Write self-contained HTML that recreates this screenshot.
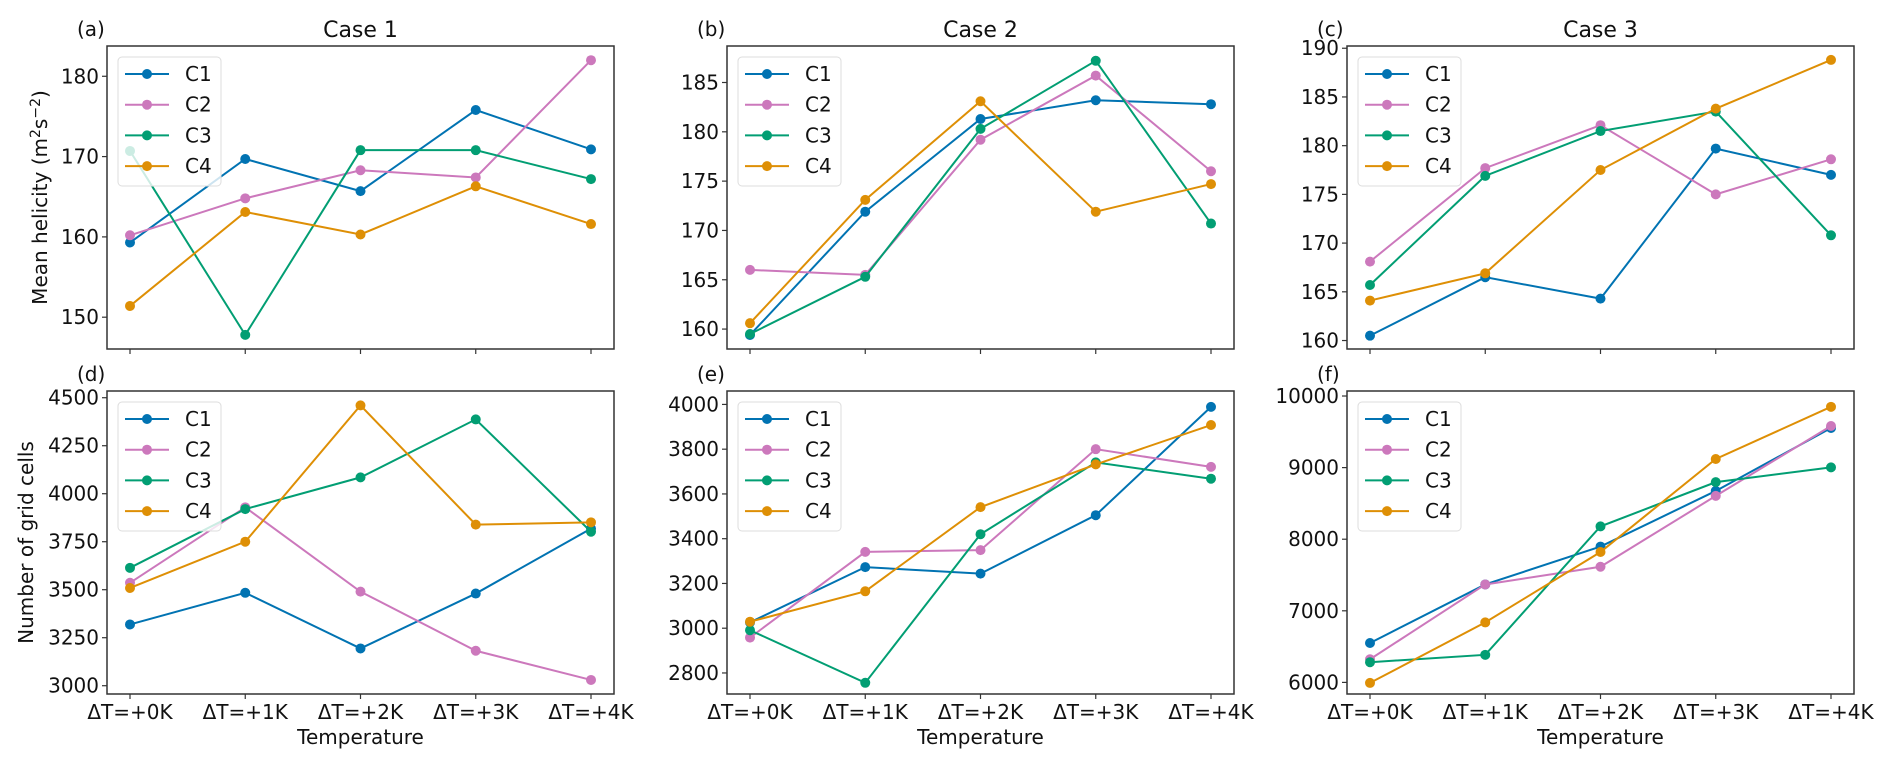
<!DOCTYPE html>
<html><head><meta charset="utf-8"><style>
html,body{margin:0;padding:0;background:#fff;}
svg text{font-family:"DejaVu Sans","Liberation Sans",sans-serif;}
</style></head><body>
<svg id="fig" width="1892" height="768" xmlns="http://www.w3.org/2000/svg"></svg>
<script>
const categories = ["ΔT=+0K","ΔT=+1K","ΔT=+2K","ΔT=+3K","ΔT=+4K"];
const seriesNames = ["C1","C2","C3","C4"];
const colors = ["#0173b2","#cc78bc","#029e73","#de8f05"];

const aC1=[159.3,169.7,165.7,175.8,170.9], aC2=[160.2,164.8,168.3,167.4,182.0], aC3=[170.7,147.8,170.8,170.8,167.2], aC4=[151.4,163.1,160.3,166.3,161.6];
const bC1=[159.4,171.9,181.3,183.2,182.8], bC2=[166.0,165.5,179.2,185.7,176.0], bC3=[159.5,165.3,180.3,187.2,170.7], bC4=[160.6,173.1,183.1,171.9,174.7];
const cC1=[160.5,166.5,164.3,179.7,177.0], cC2=[168.1,177.7,182.1,175.0,178.6], cC3=[165.7,176.9,181.5,183.5,170.8], cC4=[164.1,166.9,177.5,183.8,188.8];
const dC1=[3319,3484,3194,3480,3818], dC2=[3536,3929,3490,3182,3030], dC3=[3614,3920,4085,4387,3802], dC4=[3509,3750,4460,3839,3851];
const eC1=[3026,3273,3244,3505,3989], eC2=[2958,3341,3349,3800,3721], eC3=[2991,2756,3420,3741,3668], eC4=[3029,3165,3541,3732,3908];
const fC1=[6550,7368,7897,8674,9553], fC2=[6323,7368,7615,8605,9581], fC3=[6282,6385,8179,8797,9003], fC4=[5993,6838,7821,9120,9849];

const ticksA=[150,160,170,180], ticksB=[160,165,170,175,180,185], ticksC=[160,165,170,175,180,185,190];
const ticksD=[3000,3250,3500,3750,4000,4250,4500], ticksE=[2800,3000,3200,3400,3600,3800,4000], ticksF=[6000,7000,8000,9000,10000];

const panels=[
 {id:"a",x:107,y:46,series:[aC1,aC2,aC3,aC4],ticks:ticksA,ymin:146.04,ymax:183.77,title:"Case 1",ylabel:true,bottom:false},
 {id:"b",x:727,y:46,series:[bC1,bC2,bC3,bC4],ticks:ticksB,ymin:157.98,ymax:188.7,title:"Case 2",bottom:false},
 {id:"c",x:1347,y:46,series:[cC1,cC2,cC3,cC4],ticks:ticksC,ymin:159.13,ymax:190.23,title:"Case 3",bottom:false},
 {id:"d",x:107,y:391,series:[dC1,dC2,dC3,dC4],ticks:ticksD,ymin:2956.8,ymax:4535,ylabel2:true,bottom:true},
 {id:"e",x:727,y:391,series:[eC1,eC2,eC3,eC4],ticks:ticksE,ymin:2706,ymax:4060,bottom:true},
 {id:"f",x:1347,y:391,series:[fC1,fC2,fC3,fC4],ticks:ticksF,ymin:5838,ymax:10070,bottom:true}
];
const W=507,H=303,FS=20;
const svg=document.getElementById('fig');
const NS="http://www.w3.org/2000/svg";
function mk(tag,attrs,parent){const e=document.createElementNS(NS,tag);for(const k in attrs)e.setAttribute(k,attrs[k]);(parent||svg).appendChild(e);return e;}

panels.forEach(p=>{
  const g=mk('g',{});
  
  
  const xs=i=>p.x+23+i*(W-46)/(categories.length-1);
  const ys=v=>p.y+(p.ymax-v)/(p.ymax-p.ymin)*H;
  p.ticks.forEach(t=>{
    const yy=ys(t);
    mk('line',{x1:p.x-5,x2:p.x,y1:yy,y2:yy,stroke:'#333','stroke-width':1.2},g);
    const tx=mk('text',{x:p.x-8,y:yy+7,'text-anchor':'end','font-size':FS,fill:'#111'},g);
    tx.textContent=t;
    
    
  });
  categories.forEach((c,i)=>{
    const xx=xs(i);
    mk('line',{x1:xx,x2:xx,y1:p.y+H,y2:p.y+H+5,stroke:'#333','stroke-width':1.2},g);
    if(p.bottom){
      const tx=mk('text',{x:xx,y:p.y+H+25,'text-anchor':'middle','font-size':FS,fill:'#111'},g);
      tx.textContent=c;
      
      
    }
  });
  if(p.bottom){
    const t=mk('text',{x:p.x+W/2,y:p.y+H+50,'text-anchor':'middle','font-size':FS,fill:'#111'},g);
    t.textContent="Temperature";
    
    
  }
  p.series.forEach((s,si)=>{
    const sg=mk('g',{},g);
    
    
    mk('polyline',{points:s.map((v,i)=>xs(i)+','+ys(v)).join(' '),fill:'none',stroke:colors[si],'stroke-width':2},sg);
    s.forEach((v,i)=>{
      const c=mk('circle',{cx:xs(i),cy:ys(v),r:5,fill:colors[si]},sg);
      
      
    });
  });
  const lg=mk('g',{},g);
  
  
  mk('rect',{x:p.x+11,y:p.y+11,width:103,height:129,rx:4,fill:'#fff','fill-opacity':0.8,stroke:'#ddd','stroke-width':1},lg);
  seriesNames.forEach((n,i)=>{
    const yy=p.y+28+i*30.7;
    mk('line',{x1:p.x+18,x2:p.x+62,y1:yy,y2:yy,stroke:colors[i],'stroke-width':2},lg);
    mk('circle',{cx:p.x+40,cy:yy,r:5,fill:colors[i]},lg);
    const t=mk('text',{x:p.x+78,y:yy+7,'font-size':FS,fill:'#111'},lg);
    t.textContent=n;
    
    
  });
  mk('rect',{x:p.x,y:p.y,width:W,height:H,fill:'none',stroke:'#333','stroke-width':1.5},g);
  const lab=mk('text',{x:p.x-30,y:p.y-10,'font-size':FS,fill:'#111'},g);
  lab.textContent='('+p.id+')';
  
  
  if(p.title){
    const t=mk('text',{x:p.x+W/2,y:p.y-9,'text-anchor':'middle','font-size':22,fill:'#111'},g);
    t.textContent=p.title;
    
    
  }
  if(p.ylabel){
    const t=mk('text',{x:0,y:0,'text-anchor':'middle','font-size':FS,fill:'#111',transform:`translate(47,${p.y+H/2}) rotate(-90)`},g);
    t.innerHTML='Mean helicity (m<tspan dy="-7" font-size="14">2</tspan><tspan dy="7">s</tspan><tspan dy="-7" font-size="14">−2</tspan><tspan dy="7">)</tspan>';
    
    
  }
  if(p.ylabel2){
    const t=mk('text',{x:0,y:0,'text-anchor':'middle','font-size':FS,fill:'#111',transform:`translate(33,${p.y+H/2}) rotate(-90)`},g);
    t.textContent='Number of grid cells';
    
    
  }
});
</script>
</body></html>
